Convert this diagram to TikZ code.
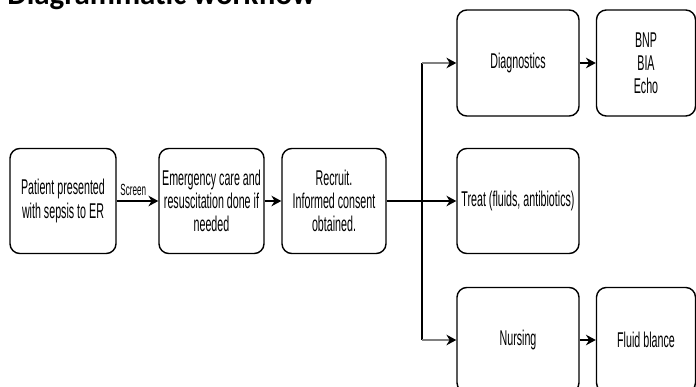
\documentclass[tikz,border=0pt]{standalone}
\usepackage{fontspec}
\usetikzlibrary{arrows.meta}
\newfontfamily\boxfont[FakeStretch=0.5]{Liberation Sans}
\newfontfamily\titlefont{Carlito}

\begin{document}
\begin{tikzpicture}[x=0.025cm, y=-0.025cm,
    box/.style={draw, black, line width=1pt, rounded corners=7pt, align=center, inner sep=0pt,
        font=\boxfont\fontsize{15.2pt}{16.5pt}\selectfont},
    flow/.style={draw, -{Stealth[length=7pt,width=7.5pt]}, black, line width=1.4pt},
    branch/.style={draw=gray, -{Stealth[length=7pt,width=7.5pt,black]}, line width=2pt}]
    \useasboundingbox (0,0) rectangle (696,387);
    \clip (0,0) rectangle (696,387);

    \node[anchor=base west, inner sep=0pt, font=\titlefont\bfseries\fontsize{22pt}{26pt}\selectfont] (title) at (7,5) {Diagrammatic workflow};

    \node[box, minimum width=2.65cm, minimum height=2.625cm] (1) at (63,201) {Patient presented\\with sepsis to ER};
    \node[box, minimum width=2.625cm, minimum height=2.625cm] (2) at (211.5,201) {Emergency care and\\resuscitation done if\\needed};
    \node[box, minimum width=2.6cm, minimum height=2.625cm] (3) at (334,201) {Recruit.\\Informed consent\\obtained.};
    \node[box, minimum width=3.05cm, minimum height=2.65cm] (4) at (518,63) {Diagnostics};
    \node[box, minimum width=3.05cm, minimum height=2.625cm] (5) at (518,201) {Treat (fluids, antibiotics)};
    \node[box, minimum width=3.05cm, minimum height=2.625cm] (6) at (518,340) {Nursing};
    \node[box, minimum width=2.475cm, minimum height=2.65cm] (7) at (646,63) {BNP\\BIA\\Echo};
    \node[box, minimum width=2.475cm, minimum height=2.625cm] (8) at (646,340) {Fluid blance};

    \coordinate (b) at (422,201);

    \path[every node/.style={font=\boxfont\fontsize{11.5pt}{13pt}\selectfont, inner sep=1pt}]
    (1) edge[flow] node[midway, above=2pt, xshift=-3pt] {Screen} (2)
    (2) edge[flow] (3)
    (3) edge[flow] (5)
    (4) edge[flow] (7)
    (6) edge[flow] (8);

    \draw[black, line width=0.8pt] (b |- 4) -- (b |- 6);
    \draw[branch] (b |- 4) -- (4);
    \draw[branch] (b |- 6) -- (6);
\end{tikzpicture}
\end{document}
